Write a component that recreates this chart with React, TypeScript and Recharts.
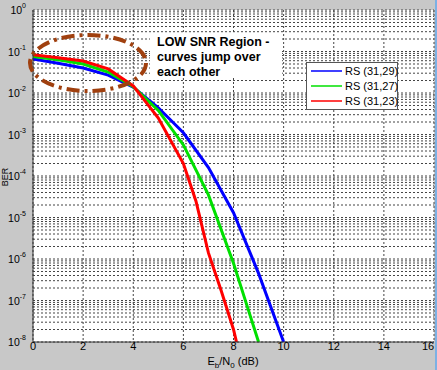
import React from "react";
import {
    CartesianGrid,
    Line,
    LineChart,
    XAxis,
    YAxis,
} from "recharts";

// Eb/N0 (dB) sample points and BER
const snr29 = [0, 1, 2, 3, 4, 5, 6, 7, 8, 9, 10];
const ber29 = [0.066, 0.052, 0.04, 0.027, 0.0138, 4.4e-3, 1.1e-3, 1.6e-4, 1.3e-5, 4.5e-7, 1e-8];

const snr27 = [0, 1, 2, 3, 4, 5, 6, 7, 8, 8.5, 9];
const ber27 = [0.076, 0.063, 0.05, 0.032, 0.0141, 3.8e-3, 5.6e-4, 3.5e-5, 7.9e-7, 8.9e-8, 1e-8];

const snr23 = [0, 1, 2, 3, 4, 5, 6, 6.5, 7, 7.5, 8, 8.12];
const ber23 = [0.083, 0.071, 0.059, 0.038, 0.0148, 2.5e-3, 2.0e-4, 2.5e-5, 1.4e-6, 1.8e-7, 2.0e-8, 1e-8];

const seriesNames = ["RS (31,29)", "RS (31,27)", "RS (31,23)"];
const seriesColors = ["#0000ff", "#00e000", "#ff0000"];

const xTicks = [0, 2, 4, 6, 8, 10, 12, 14, 16];
const decades = [1e-8, 1e-7, 1e-6, 1e-5, 1e-4, 1e-3, 1e-2, 1e-1, 1];

const noteLines = ["LOW SNR Region -", "curves jump over", "each other"];

const toRows = (xs: number[], ys: number[]) => xs.map((x, i) => ({ x, ber: ys[i] }));
const rs29 = toRows(snr29, ber29);
const rs27 = toRows(snr27, ber27);
const rs23 = toRows(snr23, ber23);

// minor log grid: 1..9 x each decade
const yGridTicks: number[] = [];
decades.slice(0, -1).forEach((d) => {
    for (let m = 1; m < 10; m++) yGridTicks.push(d * m);
});
yGridTicks.push(1);

const FONT = "'Liberation Sans', Arial, sans-serif";

const LogTick = (props: any) => {
    const { x, y, payload } = props;
    const lg = Math.log10(payload.value);
    const e = Math.round(lg);
    if (Math.abs(lg - e) > 1e-6) return null;
    return (
        <text x={x + 1} y={y + 4} textAnchor="end" fontSize={10.5} fontFamily={FONT} fill="#000">
            10
            <tspan dy={-6} fontSize={7}>{e}</tspan>
        </text>
    );
};

const XTick = (props: any) => {
    const { x, y, payload } = props;
    return (
        <text x={x} y={y + 8} textAnchor="middle" fontSize={11} fontFamily={FONT} fill="#000">
            {payload.value}
        </text>
    );
};

export default function App() {
    return (
        <div
            style={{
                position: "fixed",
                left: 0,
                top: 0,
                width: 437,
                height: 370,
                background: "#c8c8c8",
                overflow: "hidden",
            }}
        >
            <LineChart
                width={436}
                height={370}
                margin={{ top: 10, right: 2, bottom: 0, left: 0 }}
            >
                <CartesianGrid
                    stroke="#444"
                    strokeDasharray="2 2"
                    fill="#fff"
                    fillOpacity={1}
                />
                <XAxis
                    type="number"
                    dataKey="x"
                    domain={[0, 16]}
                    ticks={xTicks}
                    allowDataOverflow
                    height={28}
                    tickLine={false}
                    axisLine={{ stroke: "#333" }}
                    tick={<XTick />}
                    tickSize={0}
                    tickMargin={0}
                />
                <YAxis
                    type="number"
                    scale="log"
                    domain={[1e-8, 1]}
                    ticks={yGridTicks}
                    allowDataOverflow
                    width={33}
                    tickLine={false}
                    axisLine={{ stroke: "#333" }}
                    tick={<LogTick />}
                    interval={0}
                />
                <Line
                    data={rs29}
                    dataKey="ber"
                    name={seriesNames[0]}
                    stroke={seriesColors[0]}
                    strokeWidth={3}
                    dot={false}
                    type="linear"
                    isAnimationActive={false}
                />
                <Line
                    data={rs27}
                    dataKey="ber"
                    name={seriesNames[1]}
                    stroke={seriesColors[1]}
                    strokeWidth={3}
                    dot={false}
                    type="linear"
                    isAnimationActive={false}
                />
                <Line
                    data={rs23}
                    dataKey="ber"
                    name={seriesNames[2]}
                    stroke={seriesColors[2]}
                    strokeWidth={3}
                    dot={false}
                    type="linear"
                    isAnimationActive={false}
                />
            </LineChart>
            <svg
                width={437}
                height={370}
                style={{ position: "absolute", left: 0, top: 0, pointerEvents: "none" }}
            >
                <ellipse
                    cx={88}
                    cy={63}
                    rx={58}
                    ry={28}
                    fill="none"
                    stroke="#a0400f"
                    strokeWidth={4}
                    strokeDasharray="13 5 3 5"
                />
                <rect x={150} y={33} width={132} height={45} fill="#fff" />
                {noteLines.map((t, i) => (
                    <text
                        key={t}
                        x={157}
                        y={46 + i * 15}
                        fontSize={12.5}
                        fontWeight="bold"
                        fontFamily={FONT}
                        fill="#000"
                    >
                        {t}
                    </text>
                ))}
                <g>
                    <rect x={306.5} y={62.5} width={91} height={47} fill="#fff" stroke="#555" />
                    {seriesNames.map((n, i) => (
                        <g key={n}>
                            <line
                                x1={311}
                                x2={342}
                                y1={71 + i * 15}
                                y2={71 + i * 15}
                                stroke={seriesColors[i]}
                                strokeWidth={1.5}
                            />
                            <text
                                x={345}
                                y={75 + i * 15}
                                fontSize={11}
                                fontFamily={FONT}
                                fill="#000"
                            >
                                {n}
                            </text>
                        </g>
                    ))}
                </g>
                <text
                    x={233}
                    y={365}
                    textAnchor="middle"
                    fontSize={11}
                    fontFamily={FONT}
                    fill="#000"
                >
                    E<tspan dy={3} fontSize={8}>b</tspan>
                    <tspan dy={-3}>/N</tspan>
                    <tspan dy={3} fontSize={8}>0</tspan>
                    <tspan dy={-3}> (dB)</tspan>
                </text>
                <text
                    x={5}
                    y={177}
                    textAnchor="middle"
                    dominantBaseline="central"
                    fontSize={9}
                    fontFamily={FONT}
                    fill="#000"
                    transform="rotate(-90 5 177)"
                >
                    BER
                </text>
                <line x1={436} y1={0} x2={436} y2={370} stroke="#3399ff" strokeWidth={1} />
            </svg>
        </div>
    );
}
